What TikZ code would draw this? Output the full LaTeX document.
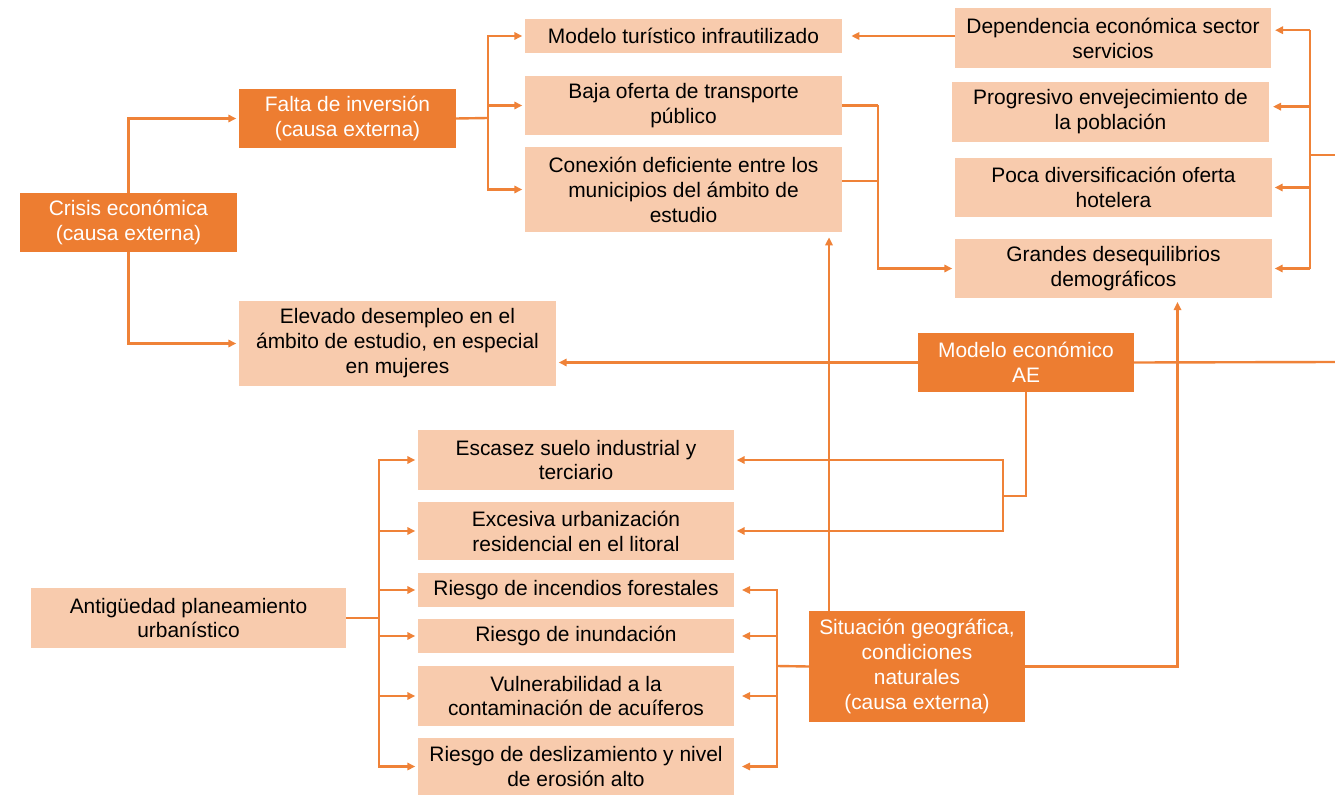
\documentclass[tikz,border=0pt]{standalone}
\usepackage{fontspec}
\setmainfont{Liberation Sans}
\usetikzlibrary{arrows.meta,calc}
\definecolor{darkor}{HTML}{ED7D31}
\definecolor{lightor}{HTML}{F8CBAD}
\definecolor{lineor}{HTML}{EF8238}
\newcommand\mybox[7]{\node[#6, minimum width={(#4-#2)*0.75pt}, minimum height={(#5-#3)*0.75pt}] (#1) at ({(#2+#4)/2},{(#3+#5)/2}) {#7};}
\tikzset{
  basebox/.style={inner sep=0pt, outer sep=0pt, align=center, font=\fontsize{15.7}{18.7}\selectfont},
  darkbox/.style={basebox, fill=darkor, text=white},
  lightbox/.style={basebox, fill=lightor, text=black},
  conn/.style={draw=lineor, line width=1.8pt},
  arr/.style={conn, -{Triangle[length=6pt,width=5.5pt]}, shorten >=2pt},
}
\begin{document}
\begin{tikzpicture}[x=0.75pt,y=-0.75pt]
\useasboundingbox (0,0) rectangle (1335,795);
% boxes
\mybox{crisis}{20}{193}{237}{252}{darkbox}{Crisis económica\\(causa externa)}
\mybox{falta}{239}{89}{456}{148}{darkbox}{Falta de inversión\\(causa externa)}
\mybox{elev}{239}{301}{556}{386}{lightbox}{Elevado desempleo en el\\ámbito de estudio, en especial\\en mujeres}
\mybox{modtur}{525}{19}{842}{53}{lightbox}{Modelo turístico infrautilizado}
\mybox{baja}{525}{76}{842}{135}{lightbox}{Baja oferta de transporte\\público}
\mybox{conex}{525}{147}{842}{232}{lightbox}{Conexión deficiente entre los\\municipios del ámbito de\\estudio}
\mybox{dep}{955}{8}{1271}{68}{lightbox}{Dependencia económica sector\\servicios}
\mybox{prog}{952}{82}{1269}{142}{lightbox}{Progresivo envejecimiento de\\la población}
\mybox{poca}{955}{158}{1272}{217}{lightbox}{Poca diversificación oferta\\hotelera}
\mybox{grandes}{955}{239}{1272}{298}{lightbox}{Grandes desequilibrios\\demográficos}
\mybox{modeco}{918}{333}{1134}{392}{darkbox}{Modelo económico\\AE}
\mybox{escasez}{418}{430}{734}{490}{lightbox}{Escasez suelo industrial y\\terciario}
\mybox{exces}{418}{502}{734}{560}{lightbox}{Excesiva urbanización\\residencial en el litoral}
\mybox{incend}{418}{573}{734}{607}{lightbox}{Riesgo de incendios forestales}
\mybox{inund}{418}{619}{734}{653}{lightbox}{Riesgo de inundación}
\mybox{vuln}{418}{666}{734}{726}{lightbox}{Vulnerabilidad a la\\contaminación de acuíferos}
\mybox{desliz}{418}{738}{734}{795}{lightbox}{Riesgo de deslizamiento y nivel\\de erosión alto}
\mybox{antig}{31}{588}{346}{648}{lightbox}{Antigüedad planeamiento\\urbanístico}
\mybox{sit}{809}{611}{1025}{722}{darkbox}{Situación geográfica,\\condiciones\\naturales\\(causa externa)}
% junction coordinates
\coordinate (fj) at (488,118);
\coordinate (bj) at (878,107);
\coordinate (rb) at (1310,155);
\coordinate (edgeA) at (1335,155);
\coordinate (edgeB) at (1335,362);
\coordinate (mj) at (1003,496);
\coordinate (sj) at (777,666);
\coordinate (aj) at (379,618);
% crisis
\draw[arr] (crisis.north) |- (falta.west);
\draw[arr] (crisis.south) |- (elev.west);
% falta
\draw[conn] (falta.east) -- (fj);
\draw[arr] (fj) |- (modtur.west);
\draw[arr] (fj) |- (baja.west);
\draw[arr] (fj) |- (conex.west);
% dependencia -> modelo turistico
\draw[arr, shorten >=7pt] (dep.west |- modtur.east) -- (modtur.east);
% baja/conex -> grandes
\draw[conn] (baja.east) -- (baja.east -| bj);
\draw[conn] ([yshift=6.5pt]conex.east) -- ([yshift=6.5pt]conex.east -| bj);
\draw[arr] (baja.east -| bj) |- (grandes.west);
% right bracket
\coordinate (depin) at ($(dep.north east)!0.37!(dep.south east)$);
\draw[conn] (rb |- depin) -- (rb |- grandes.east);
\draw[conn] (rb) -- (edgeA);
\draw[arr, shorten >=3pt] (rb |- depin) -- (depin);
\draw[arr, shorten >=3pt] ([yshift=4pt]rb |- prog.east) -- ([yshift=4pt]prog.east);
\draw[arr] (rb |- poca.east) -- (poca.east);
\draw[arr] (rb |- grandes.east) -- (grandes.east);
% modelo economico
\draw[arr] (modeco.west) -- (modeco.west -| elev.east);
\draw[conn] (modeco.east) -- (edgeB);
\draw[conn] (modeco.south) |- (mj);
\draw[arr] (mj) |- (escasez.east);
\draw[arr] (mj) |- (exces.east);
% situacion
\draw[conn] (sit.west) -- (sj);
\draw[arr, shorten >=6pt] (sj) |- (incend.east);
\draw[arr, shorten >=6pt] (sj) |- (inund.east);
\draw[arr, shorten >=6pt] (sj) |- (vuln.east);
\draw[arr, shorten >=6pt] (sj) |- (desliz.east);
\coordinate (situp) at ($(sit.north west)+(20,0)$);
\draw[arr, shorten >=4pt] (situp) -- (situp |- conex.south);
\coordinate (grin) at ($(grandes.south)+(64,0)$);
\draw[arr, shorten >=3pt] (sit.east) -| (grin);
% antiguedad
\draw[conn] (antig.east) -- (aj);
\draw[arr] (aj) |- (escasez.west);
\draw[arr] (aj) |- (exces.west);
\draw[arr] (aj) |- (incend.west);
\draw[arr] (aj) |- (inund.west);
\draw[arr] (aj) |- (vuln.west);
\draw[arr] (aj) |- (desliz.west);
\end{tikzpicture}
\end{document}
